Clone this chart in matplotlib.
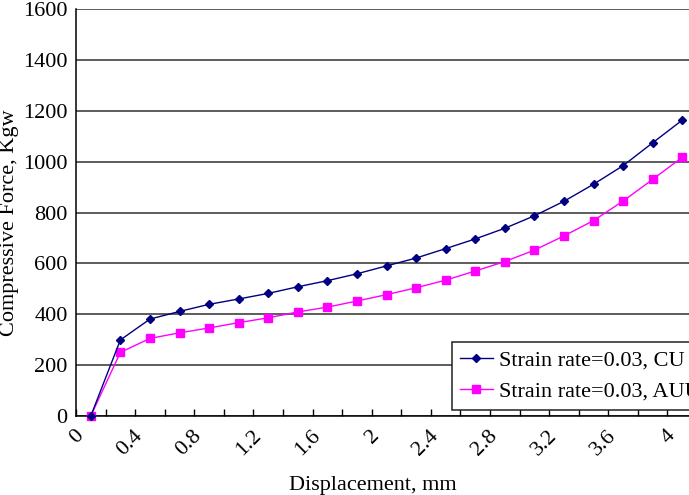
import matplotlib
matplotlib.use("Agg")
import matplotlib.pyplot as plt
from matplotlib.transforms import ScaledTranslation
import numpy as np

plt.rcParams['font.family'] = ['Liberation Serif', 'DejaVu Serif']

# Data
displacement = [0.0, 0.2, 0.4, 0.6, 0.8, 1.0, 1.2, 1.4, 1.6, 1.8, 2.0,
                2.2, 2.4, 2.6, 2.8, 3.0, 3.2, 3.4, 3.6, 3.8, 4.0]
force_cu = [0, 299, 381, 411, 439, 460, 482, 508, 532, 559, 590,
            621, 658, 696, 738, 787, 844, 911, 984, 1074, 1163]
force_auu = [0, 250, 305, 327, 346, 367, 386, 409, 428, 452, 477,
             504, 534, 570, 607, 652, 708, 768, 845, 930, 1017]
xtick_labels = ['0', '0.4', '0.8', '1.2', '1.6', '2', '2.4', '2.8', '3.2', '3.6', '4']
ytick_values = [0, 200, 400, 600, 800, 1000, 1200, 1400, 1600]
series_labels = ['Strain rate=0.03, CU', 'Strain rate=0.03, AUU']

W, H = 689, 495
fig = plt.figure(figsize=(W / 100, H / 100), dpi=100)
ax = fig.add_axes([76 / W, (H - 416) / H, 621 / W, 407 / H])

ax.plot(displacement, force_cu, color='#000080', lw=1.0, marker='D',
        markersize=4.4, label=series_labels[0], zorder=4, clip_on=False)
ax.plot(displacement, force_auu, color='#FF00FF', lw=1.0, marker='s',
        markersize=5.2, label=series_labels[1], zorder=3, clip_on=False)

ax.set_xlim(-0.1, 4.1)
ax.set_ylim(0, 1600)

ax.set_yticks(ytick_values)
ax.set_yticklabels([str(v) for v in ytick_values], fontsize=16)
ax.tick_params(axis='y', length=0, pad=6)
ax.yaxis.grid(True, color='#303030', lw=1.1)
ax.set_axisbelow(True)

# category boundary ticks (inside) and labels at category centres
step = displacement[1] - displacement[0]
bounds = [d - step / 2 for d in displacement] + [displacement[-1] + step / 2]
ax.set_xticks(bounds, minor=True)
ax.tick_params(axis='x', which='minor', direction='in', length=5, width=1, color='black')
ax.set_xticks([float(t) for t in xtick_labels])
ax.set_xticklabels(xtick_labels, fontsize=16, rotation=45, ha='right', va='center',
                   rotation_mode='anchor')
ax.tick_params(axis='x', which='major', length=0, pad=12.5)
offset = ScaledTranslation(-0.10, 0, fig.dpi_scale_trans)
for lab in ax.get_xticklabels():
    lab.set_transform(lab.get_transform() + offset)

for s in ['top', 'right']:
    ax.spines[s].set_visible(False)
for s in ['left', 'bottom']:
    ax.spines[s].set_color('black')
    ax.spines[s].set_linewidth(1.1)

ax.set_xlabel('Displacement, mm', fontsize=16)
ax.xaxis.set_label_coords(0.478, -0.147)
ax.set_ylabel('Compressive Force, Kgw', fontsize=16)
ax.yaxis.set_label_coords(-0.091, 0.474)

leg = fig.legend(loc='upper left', bbox_to_anchor=(452 / W, 1 - 342 / H),
                 bbox_transform=fig.transFigure, borderaxespad=0, fontsize=16,
                 frameon=True, fancybox=False, framealpha=1, edgecolor='#222222',
                 handlelength=1.5, handletextpad=0.25, borderpad=0.35,
                 labelspacing=0.5)
leg.get_frame().set_linewidth(1.1)

fig.savefig('out.png', dpi=100)
